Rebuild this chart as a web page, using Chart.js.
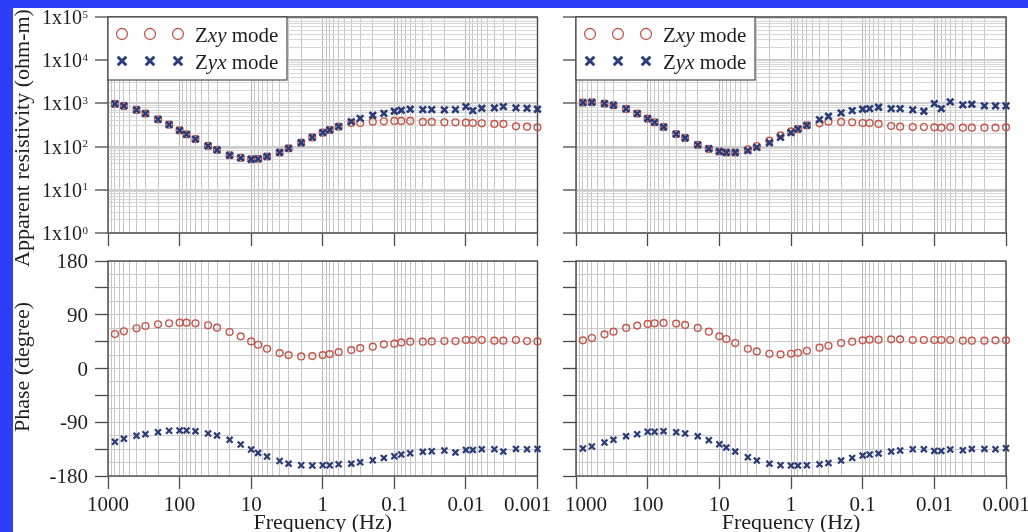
<!DOCTYPE html>
<html>
<head>
<meta charset="utf-8">
<script src="https://cdn.jsdelivr.net/npm/chart.js@4/dist/chart.umd.min.js"></script>
<style>
  html, body { margin: 0; padding: 0; background: #fff; }
  #page { position: relative; width: 1028px; height: 532px; overflow: hidden; background: #fff; }
  #page canvas { position: absolute; left: 0; top: 0; }
  .band { position: absolute; background: #2c3ff7; }
</style>
</head>
<body>
<div id="page">
  <canvas id="rho-a" width="1028" height="532"></canvas>
  <canvas id="rho-b" width="1028" height="532"></canvas>
  <canvas id="phs-a" width="1028" height="532"></canvas>
  <canvas id="phs-b" width="1028" height="532"></canvas>
  <div class="band" style="left:0;top:0;width:1028px;height:8px"></div>
  <div class="band" style="left:0;top:0;width:13px;height:532px"></div>
</div>
<script>
'use strict';

// ── DATA ───────────────────────────────────────────────────
const FREQ = [800, 600, 400, 300, 200, 140, 100, 80, 60, 40, 30, 20, 14, 10, 8, 6, 4, 3, 2, 1.4,
  1, 0.8, 0.6, 0.4, 0.3, 0.2, 0.14, 0.1, 0.08, 0.06, 0.04, 0.03, 0.02, 0.014,
  0.01, 0.008, 0.006, 0.004, 0.003, 0.002, 0.0014, 0.001];

// apparent resistivity, ohm-m (site A left, site B right)
const RHO_XY_A = [973, 875, 706, 580, 428, 322, 238, 192, 149, 104, 84, 63, 55, 51, 52, 59, 73, 91, 123, 163,
  210, 242, 289, 352, 352, 378, 385, 392, 392, 392, 372, 372, 365, 365, 358, 352, 346, 334, 334, 294, 289, 279];
const RHO_YX_A = [973, 875, 706, 580, 428, 322, 238, 192, 149, 104, 84, 63, 55, 51, 52, 59, 73, 91, 123, 163,
  210, 242, 289, 378, 452, 531, 590, 658, 693, 731, 719, 719, 706, 719, 844, 681, 773, 786, 844, 786, 773, 731];
const RHO_XY_B = [1046, 1064, 991, 906, 745, 580, 444, 365, 284, 195, 158, 110, 89, 77, 73, 73, 86, 103, 137, 182,
  225, 255, 310, 346, 378, 372, 365, 352, 352, 334, 300, 289, 284, 284, 279, 274, 284, 274, 274, 274, 274, 279];
const RHO_YX_B = [1046, 1064, 991, 906, 745, 580, 444, 365, 284, 195, 158, 110, 89, 77, 73, 73, 81, 96, 123, 163,
  210, 255, 310, 421, 503, 601, 681, 731, 759, 815, 759, 759, 706, 658, 991, 759, 1084, 923, 957, 875, 875, 875];

// impedance phase, degrees
const PHS_XY_A = [57.8, 62.3, 67.3, 71.2, 74, 75.7, 76.8, 76.8, 75.7, 72.3, 68.4, 61.1, 53.8, 45.4, 39.8, 33.1,
  25.8, 22.4, 20.2, 20.8, 22.4, 24.1, 27.5, 30.8, 34.2, 36.5, 40.4, 41.5, 43.7, 44.9, 44.9, 45.4, 46, 46,
  47.7, 47.7, 47.7, 46.6, 46.6, 47.7, 46, 45.4];
const PHS_YX_A = [-122.8, -117.8, -112.7, -109.9, -106.6, -104.3, -103.8, -103.8, -104.9, -108.8, -112.2, -119.5,
  -127.3, -135.7, -141.3, -147.5, -154.8, -159.3, -162.1, -162.6, -162.1, -162.1, -160.4, -159.3, -157, -153.7,
  -149.7, -146.9, -144.1, -141.9, -139.6, -138.5, -137.4, -140.8, -136.3, -136.3, -135.2, -135.2, -139.1, -134.6,
  -135.2, -134.6];
const PHS_XY_B = [47.1, 51, 57.2, 61.7, 67.9, 71.8, 74.6, 75.7, 76.3, 75.2, 72.9, 67.9, 61.7, 53.8, 49.4, 42.6,
  33.1, 28.6, 24.7, 23.6, 24.7, 26.4, 29.7, 34.8, 38.1, 42.6, 44.9, 47.1, 48.2, 48.2, 48.8, 48.8, 47.7, 47.7,
  47.7, 47.7, 47.7, 46.6, 46.6, 46.6, 47.1, 47.1];
const PHS_YX_B = [-134, -130.7, -124, -119.5, -113.3, -109.9, -106, -106, -104.9, -106.6, -108.8, -113.3, -120,
  -126.8, -132.4, -139.1, -148.6, -154.2, -159.3, -162.1, -162.6, -162.6, -162.1, -160.4, -158.2, -154.2, -149.7,
  -145.8, -144.1, -142.5, -139.1, -137.4, -135.2, -135.2, -138, -138, -135.7, -136.8, -134.6, -134.6, -135.2,
  -133.5];

// tick labels
const FREQ_TICKS = [1000, 100, 10, 1, 0.1, 0.01, 0.001];
const FREQ_LABELS = ['1000', '100', '10', '1', '0.1', '0.01', '0.001'];
const RHO_TICKS = [1, 10, 100, 1000, 10000, 100000];
const RHO_EXP = ['0', '1', '2', '3', '4', '5'];
const PHS_TICKS = [180, 90, 0, -90, -180];
const PHS_LABELS = ['180', '90', '0', '-90', '-180'];
const SERIES = ['Zxy mode', 'Zyx mode'];
const X_TITLE = 'Frequency (Hz)';
const RHO_TITLE = 'Apparent resistivity (ohm-m)';
const PHS_TITLE = 'Phase (degree)';

// ── STYLE ──────────────────────────────────────────────────
const W = 1028, H = 532, TICK = 13;
const FONT = '"Liberation Serif", "Times New Roman", serif';
const INK = '#1e1e1e';
const FRAME = '#4a4a4a';
const RED = '#c4564b';
const NAVY = '#2b3b78';
const COLS = [{ left: 108, right: 537.5 }, { left: 576, right: 1006 }];
const ROWS = { rho: { top: 17, bottom: 233 }, phs: { top: 261, bottom: 476 } };

// ── HELPERS ────────────────────────────────────────────────
const isDecade = v => Math.abs(Math.log10(v) - Math.round(Math.log10(v))) < 1e-9;

function logGrid(lo, hi) {
  const out = [];
  for (let e = lo; e < hi; e++) {
    for (let m = 1; m < 10; m++) out.push(+(m * Math.pow(10, e)).toPrecision(3));
  }
  out.push(Math.pow(10, hi));
  return out;
}

function phaseGrid() {
  const out = [];
  for (let v = -180; v <= 180; v += 22.5) out.push(v);
  return out;
}

function drawLegend(ctx, x0, y0) {
  ctx.save();
  ctx.fillStyle = '#fff';
  ctx.fillRect(x0, y0, 179, 63);
  ctx.strokeStyle = FRAME;
  ctx.lineWidth = 1.2;
  ctx.strokeRect(x0, y0, 179, 63);

  const rows = [y0 + 17, y0 + 44];
  [14, 42, 70].forEach(dx => {
    ctx.strokeStyle = RED;
    ctx.lineWidth = 1.3;
    ctx.beginPath();
    ctx.arc(x0 + dx, rows[0], 5.5, 0, Math.PI * 2);
    ctx.stroke();

    ctx.strokeStyle = NAVY;
    ctx.lineWidth = 3;
    const cx = x0 + dx, cy = rows[1], s = 4.3;
    ctx.beginPath();
    ctx.moveTo(cx - s, cy - s); ctx.lineTo(cx + s, cy + s);
    ctx.moveTo(cx + s, cy - s); ctx.lineTo(cx - s, cy + s);
    ctx.stroke();
  });

  // "Z" upright, subscript pair italic, " mode" upright
  ctx.fillStyle = INK;
  ctx.textAlign = 'left';
  ctx.textBaseline = 'alphabetic';
  SERIES.forEach((name, i) => {
    let x = x0 + 87;
    const y = rows[i] + 7.5;
    const parts = [[name.slice(0, 1), ''], [name.slice(1, 3), 'italic '], [name.slice(3), '']];
    parts.forEach(([txt, style]) => {
      ctx.font = `${style}21px ${FONT}`;
      ctx.fillText(txt, x, y);
      x += ctx.measureText(txt).width;
    });
  });
  ctx.restore();
}

function panelText(cfg) {
  return {
    id: 'panelText',
    beforeDatasetsDraw(chart) {
      const { ctx, chartArea: a } = chart;
      ctx.save();
      ctx.strokeStyle = FRAME;
      ctx.lineWidth = 1.4;
      ctx.strokeRect(a.left, a.top, a.right - a.left, a.bottom - a.top);
      ctx.restore();
    },
    afterDraw(chart) {
      const { ctx, chartArea: a, scales: { x, y } } = chart;
      ctx.save();
      ctx.fillStyle = INK;
      ctx.textBaseline = 'alphabetic';

      if (cfg.legend) drawLegend(ctx, a.left, a.top);

      const xr = a.left - TICK - 7;
      if (cfg.yLabels === 'rho') {
        RHO_TICKS.forEach((v, i) => {
          const py = y.getPixelForValue(v);
          ctx.textAlign = 'right';
          ctx.font = `11px ${FONT}`;
          ctx.fillText(RHO_EXP[i], xr, py + 0.5);
          const sw = ctx.measureText(RHO_EXP[i]).width;
          ctx.font = `20px ${FONT}`;
          ctx.fillText('1x10', xr - sw - 0.5, py + 7);
        });
      } else if (cfg.yLabels === 'phs') {
        ctx.textAlign = 'right';
        ctx.font = `21px ${FONT}`;
        PHS_TICKS.forEach((v, i) => ctx.fillText(PHS_LABELS[i], xr, y.getPixelForValue(v) + 7));
      }

      if (cfg.xLabels) {
        ctx.textAlign = 'center';
        ctx.font = `21px ${FONT}`;
        FREQ_TICKS.forEach((v, i) => {
          let shift = 0;
          if (i === 0) shift = cfg.firstShift || 0;
          if (i === FREQ_TICKS.length - 1) shift = cfg.lastShift || 0;
          ctx.fillText(FREQ_LABELS[i], x.getPixelForValue(v) + shift, 510.5);
        });
        ctx.font = `22px ${FONT}`;
        ctx.fillText(X_TITLE, (a.left + a.right) / 2, 529);
      }

      if (cfg.yTitle) {
        ctx.font = `22px ${FONT}`;
        ctx.textAlign = 'center';
        ctx.translate(28.5, cfg.yTitleAt);
        ctx.rotate(-Math.PI / 2);
        ctx.fillText(cfg.yTitle, 0, 0);
      }
      ctx.restore();
    }
  };
}

// ── CHARTS ─────────────────────────────────────────────────
function makePanel(id, col, row, kind, xyVals, yxVals, text) {
  const isRho = kind === 'rho';
  const pts = vals => FREQ.map((f, i) => ({ x: f, y: vals[i] }));

  const yScale = isRho
    ? {
        type: 'logarithmic', min: 1, max: 100000,
        afterBuildTicks: s => { s.ticks = logGrid(0, 5).map(v => ({ value: v })); },
        grid: {
          color: c => isDecade(c.tick.value) ? '#cdcdcd' : '#d6d6d6',
          lineWidth: c => isDecade(c.tick.value) ? 2 : 1,
          tickColor: c => isDecade(c.tick.value) ? FRAME : 'rgba(0,0,0,0)'
        }
      }
    : {
        type: 'linear', min: -180, max: 180,
        afterBuildTicks: s => { s.ticks = phaseGrid().map(v => ({ value: v })); },
        grid: {
          color: '#c9c9c9',
          lineWidth: 1,
          tickColor: c => c.tick.value % 45 === 0 ? FRAME : 'rgba(0,0,0,0)'
        }
      };
  Object.assign(yScale, {
    afterFit: s => { s.width = TICK; },
    ticks: { display: false },
    border: { display: false }
  });
  Object.assign(yScale.grid, { tickLength: TICK, tickWidth: 1.3 });

  return new Chart(document.getElementById(id), {
    type: 'scatter',
    data: {
      datasets: [
        {
          label: SERIES[0], data: pts(xyVals), order: 2, clip: false,
          pointStyle: 'circle', pointRadius: 3.4, pointBorderWidth: 1.4,
          pointBorderColor: RED, pointBackgroundColor: 'rgba(255,255,255,0)'
        },
        {
          label: SERIES[1], data: pts(yxVals), order: 1, clip: false,
          pointStyle: 'crossRot', pointRadius: isRho ? 4.6 : 4.2, pointBorderWidth: isRho ? 2.6 : 2.2,
          pointBorderColor: NAVY, pointBackgroundColor: NAVY
        }
      ]
    },
    options: {
      responsive: false,
      animation: false,
      devicePixelRatio: 1,
      events: [],
      layout: {
        padding: { left: col.left - TICK, top: row.top, right: W - col.right, bottom: H - row.bottom - TICK }
      },
      plugins: { legend: { display: false }, tooltip: { enabled: false } },
      scales: {
        x: {
          type: 'logarithmic', reverse: true, min: 0.001, max: 1000,
          afterBuildTicks: s => { s.ticks = logGrid(-3, 3).map(v => ({ value: v })); },
          afterFit: s => { s.height = TICK; },
          ticks: { display: false },
          border: { display: false },
          grid: {
            color: c => isDecade(c.tick.value) ? '#b4b4b4' : '#c6c6c6',
            lineWidth: 1,
            tickLength: TICK,
            tickWidth: 1.3,
            tickColor: c => isDecade(c.tick.value) ? FRAME : 'rgba(0,0,0,0)'
          }
        },
        y: yScale
      }
    },
    plugins: [panelText(text)]
  });
}

window.onload = () => {
  makePanel('rho-a', COLS[0], ROWS.rho, 'rho', RHO_XY_A, RHO_YX_A,
    { legend: true, yLabels: 'rho', yTitle: RHO_TITLE, yTitleAt: 138 });
  makePanel('rho-b', COLS[1], ROWS.rho, 'rho', RHO_XY_B, RHO_YX_B,
    { legend: true });
  makePanel('phs-a', COLS[0], ROWS.phs, 'phs', PHS_XY_A, PHS_YX_A,
    { yLabels: 'phs', yTitle: PHS_TITLE, yTitleAt: 367, xLabels: true, lastShift: -10 });
  makePanel('phs-b', COLS[1], ROWS.phs, 'phs', PHS_XY_B, PHS_YX_B,
    { xLabels: true, firstShift: 10 });
};
</script>
</body>
</html>
